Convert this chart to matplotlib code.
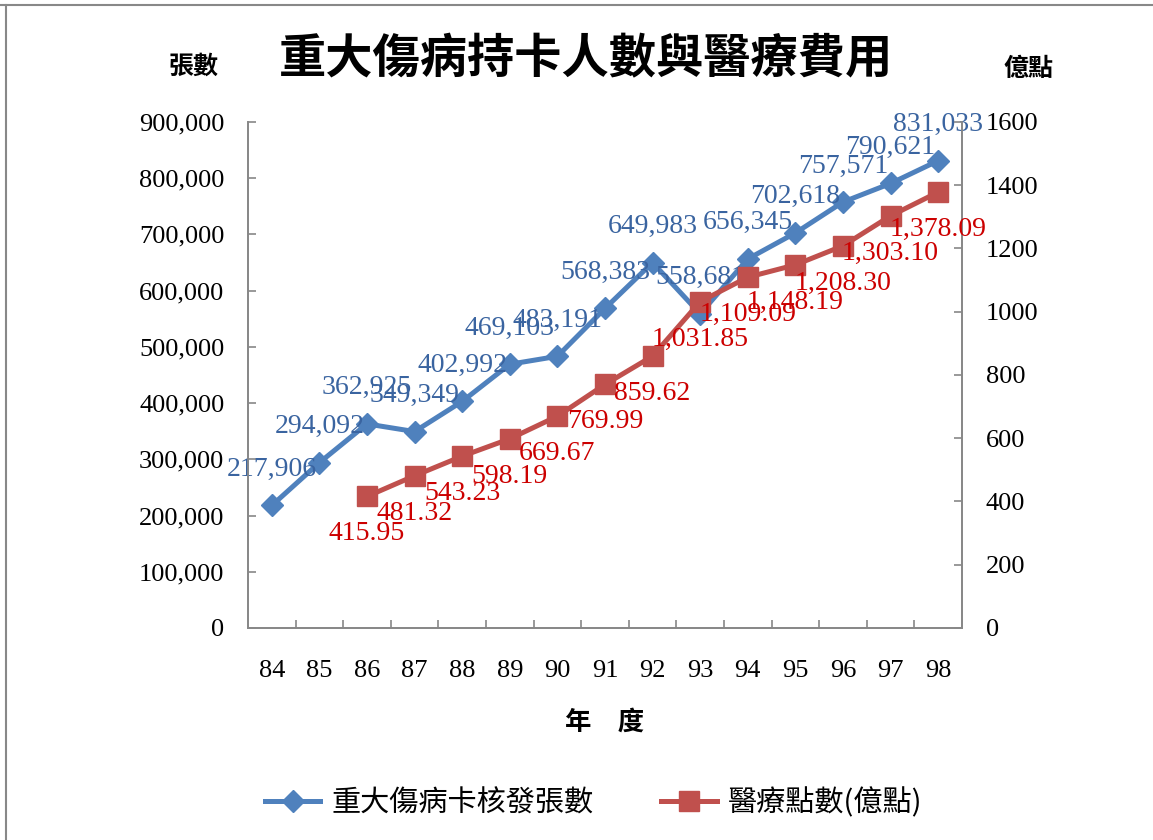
import matplotlib
matplotlib.use("Agg")
import matplotlib.pyplot as plt
from matplotlib.lines import Line2D
from matplotlib.ticker import FuncFormatter, FixedLocator

# data
years = ["84", "85", "86", "87", "88", "89", "90", "91", "92", "93", "94", "95", "96", "97", "98"]
cards = [217906, 294092, 362925, 349349, 402992, 469103, 483191, 568383,
         649983, 558681, 656345, 702618, 757571, 790621, 831033]
cost_years = ["86", "87", "88", "89", "90", "91", "92", "93", "94", "95", "96", "97", "98"]
cost = [415.95, 481.32, 543.23, 598.19, 669.67, 769.99, 859.62, 1031.85,
        1109.09, 1148.19, 1208.30, 1303.10, 1378.09]

title = "重大傷病持卡人數與醫療費用"
left_label = "張數"
right_label = "億點"
x_label = "年　度"
series_names = ["重大傷病卡核發張數", "醫療點數(億點)"]

blue = "#4F81BD"
red = "#C0504D"
blue_txt = "#3A64A0"
red_txt = "#CC0000"
axis_col = "#888888"
num_font = "Liberation Serif"
cjk_font = "Noto Sans CJK TC"

plt.rcParams["font.family"] = [num_font, cjk_font, "DejaVu Sans"]

fig = plt.figure(figsize=(11.53, 8.40), dpi=100)
ax = fig.add_axes([0.2151, 0.2524, 0.8343 - 0.2151, 0.8548 - 0.2524])
ax2 = ax.twinx()

xi = list(range(len(years)))
xc = [years.index(y) for y in cost_years]

ax.plot(xi, cards, color=blue, lw=3.6, marker="D", markersize=11, zorder=3)
ax2.plot(xc, cost, color=red, lw=3.6, marker="s", markersize=15, zorder=3)

for x, v in zip(xi, cards):
    ax.annotate(f"{v:,}", (x, v), xytext=(0, 26), textcoords="offset points",
                ha="center", va="center", fontsize=20, color=blue_txt,
                family=num_font, zorder=5)
for x, v in zip(xc, cost):
    ax2.annotate(f"{v:,.2f}", (x, v), xytext=(0, -27), textcoords="offset points",
                 ha="center", va="center", fontsize=20, color=red_txt,
                 family=num_font, zorder=5)

ax.set_xlim(-0.5, len(years) - 0.5)
ax.set_ylim(0, 900000)
ax2.set_ylim(0, 1600)
ax.set_yticks(range(0, 900001, 100000))
ax2.set_yticks(range(0, 1601, 200))
ax.yaxis.set_major_formatter(FuncFormatter(lambda v, p: f"{int(v):,}"))

ax.set_xticks(xi)
ax.set_xticklabels(years)
ax.xaxis.set_minor_locator(FixedLocator([i + 0.5 for i in xi[:-1]]))

for a in (ax, ax2):
    for s in a.spines.values():
        s.set_color(axis_col)
        s.set_linewidth(1.3)
    a.spines["top"].set_visible(False)

ax.tick_params(axis="x", which="major", length=0, pad=23, labelsize=19)
ax.tick_params(axis="x", which="minor", direction="in", length=6, color=axis_col, width=1.2)
ax.tick_params(axis="y", direction="in", length=6, color=axis_col, width=1.2, pad=17, labelsize=19)
ax2.tick_params(axis="y", direction="in", length=6, color=axis_col, width=1.2, pad=17, labelsize=19)
for lab in ax.get_xticklabels() + ax.get_yticklabels() + ax2.get_yticklabels():
    lab.set_family(num_font)

fig.text(0.508, 0.929, title, ha="center", va="center", fontsize=34,
         family=cjk_font, fontweight="bold")
fig.text(0.168, 0.920, left_label, ha="center", va="center", fontsize=18,
         family=cjk_font, fontweight="bold")
fig.text(0.892, 0.918, right_label, ha="center", va="center", fontsize=18,
         family=cjk_font, fontweight="bold")
fig.text(0.524, 0.140, x_label, ha="center", va="center", fontsize=19,
         family=cjk_font, fontweight="bold")

handles = [
    Line2D([], [], color=blue, lw=3.6, marker="D", markersize=11),
    Line2D([], [], color=red, lw=3.6, marker="s", markersize=15),
]
fig.legend(handles, series_names, loc="center", bbox_to_anchor=(0.515, 0.044),
           ncol=2, frameon=False, handlelength=1.9, handletextpad=0.4,
           columnspacing=2.3, prop={"family": cjk_font, "size": 21})

# outer frame of the screenshot
fig.add_artist(Line2D([0, 1], [0.994, 0.994], transform=fig.transFigure, color=axis_col, lw=1.5))
fig.add_artist(Line2D([0.005, 0.005], [0, 0.994], transform=fig.transFigure, color=axis_col, lw=1.5))

fig.savefig("out.png", dpi=100)
plt.close(fig)
